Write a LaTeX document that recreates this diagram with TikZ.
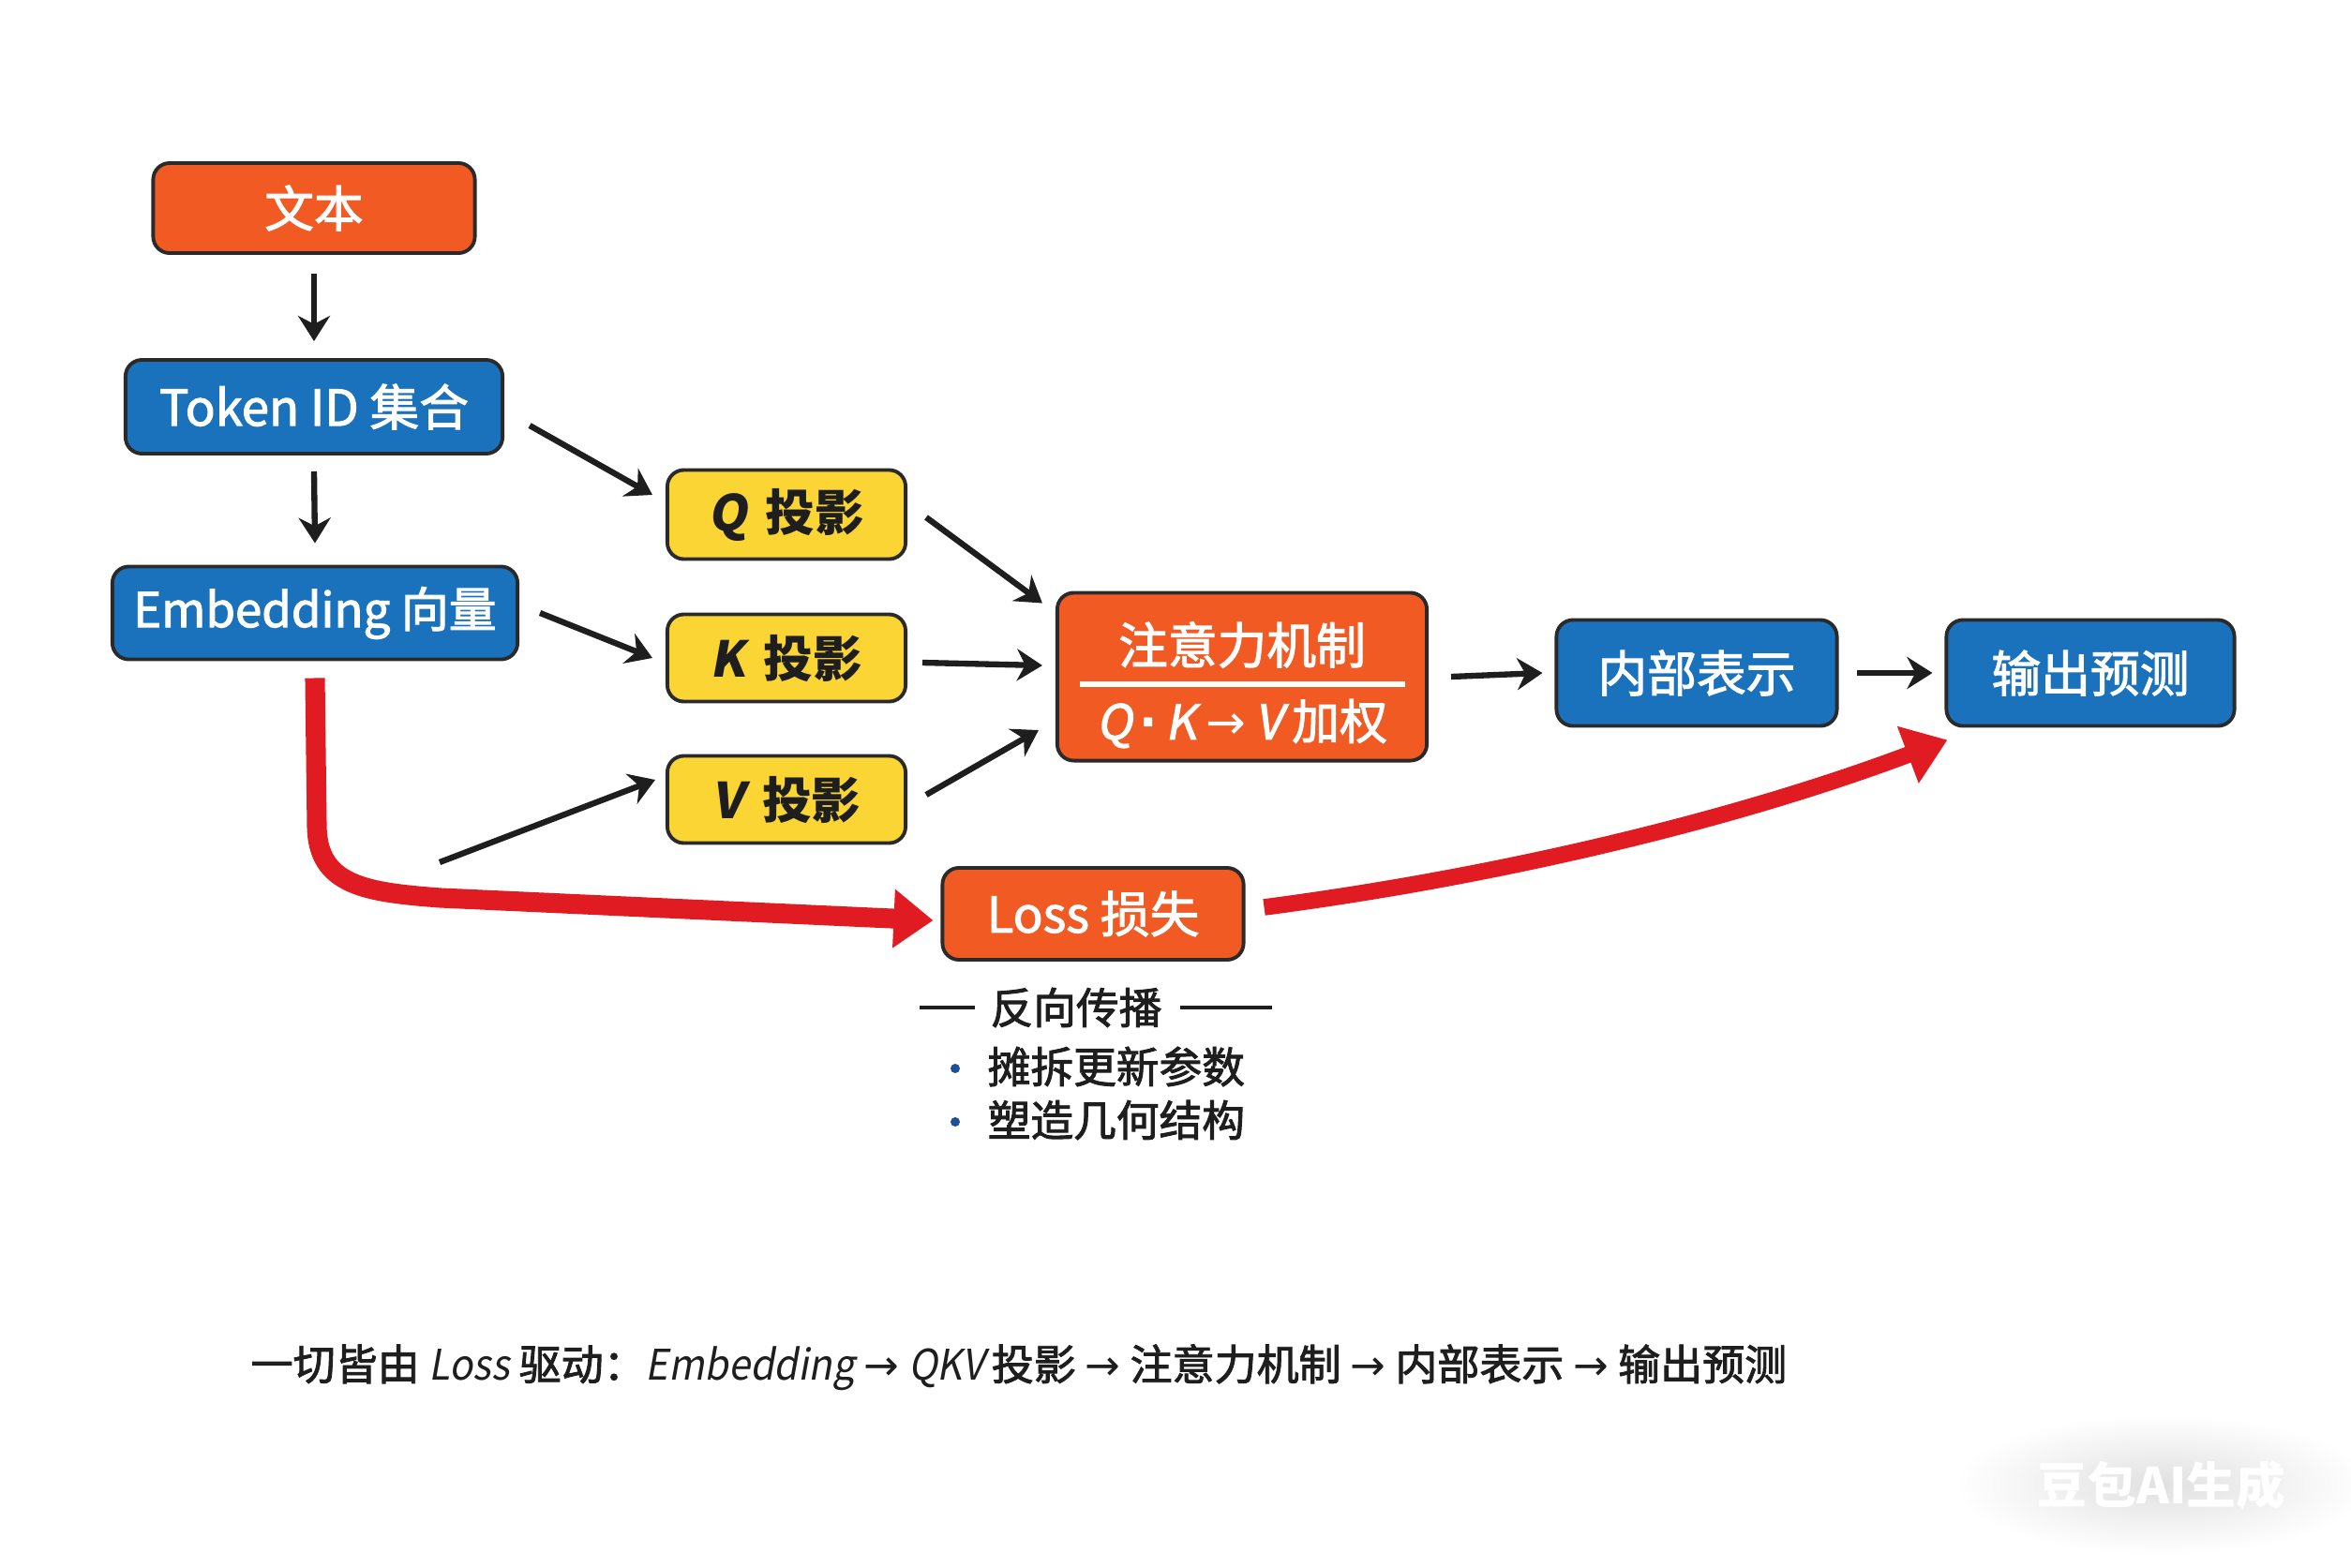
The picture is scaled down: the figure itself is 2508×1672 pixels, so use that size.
\documentclass[tikz,border=0pt]{standalone}
\usepackage{fontspec}
\setmainfont{Noto Sans CJK SC}
\newfontfamily\medfont[FakeBold=2]{Noto Sans CJK SC}
\newfontfamily\medslfont[FakeBold=2,FakeSlant=0.18]{Noto Sans CJK SC}
\newfontfamily\bslfont[FakeSlant=0.18]{Noto Sans CJK SC}
\newfontfamily\plainfont{Noto Sans CJK SC}
\newfontfamily\slfont[FakeSlant=0.18,FakeStretch=0.92]{Noto Sans CJK SC}
\newfontfamily\symfont{DejaVu Sans}
\usetikzlibrary{arrows.meta}
\definecolor{orangebox}{HTML}{F25A24}
\definecolor{bluebox}{HTML}{1A72BD}
\definecolor{yellowbox}{HTML}{FAD534}
\definecolor{redarr}{HTML}{E11B22}
\definecolor{outline}{HTML}{2A2A2A}
\definecolor{inkdark}{HTML}{1E1E1E}
\definecolor{dotblue}{HTML}{1F4E9A}
\newcommand{\rarr}{{\symfont →}}
\begin{document}
\begin{tikzpicture}[x=0.01cm,y=-0.01cm,
  box/.style={draw=outline, line width=1.1pt, rounded corners=5pt, inner sep=0pt, align=center},
  onode/.style={box, fill=orangebox, text=white},
  bnode/.style={box, fill=bluebox, text=white},
  ynode/.style={box, fill=yellowbox, text=inkdark},
  bigtxt/.style={font=\fontsize{15}{18}\selectfont\medfont},
  qtxt/.style={font=\fontsize{15}{18}\selectfont\plainfont\bfseries},
  midtxt/.style={font=\fontsize{13}{16}\selectfont\medfont},
  arr/.style={-{Stealth[length=0.27cm,width=0.34cm]}, line width=1.8pt, draw=inkdark},
  redar/.style={-{Triangle[length=0.42cm,width=0.6cm]}, line width=6pt, draw=redarr},
  redar2/.style={-{Triangle[length=0.45cm,width=0.62cm]}, line width=5pt, draw=redarr},
  sepline/.style={line width=0.9pt, draw=inkdark}
]
\useasboundingbox (0,0) rectangle (2508,1672);
\fill[white] (0,0) rectangle (2508,1672);

% left column
\node[onode, bigtxt, minimum width=3.43cm, minimum height=0.96cm] (txt) at (335,222) {文本};
\node[bnode, bigtxt, minimum width=4.02cm, minimum height=1.0cm] (tok) at (335,434) {Token ID 集合};
\node[bnode, font=\fontsize{14.5}{18}\selectfont\medfont, minimum width=4.32cm, minimum height=0.99cm] (emb) at (336,654) {Embedding 向量};

% projections
\node[ynode, qtxt, minimum width=2.54cm, minimum height=0.95cm] (qb) at (839,549) {{\bslfont\bfseries Q}\hspace{0.2cm}投影};
\node[ynode, qtxt, minimum width=2.54cm, minimum height=0.93cm] (kb) at (839,702) {{\bslfont\bfseries K}\hspace{0.2cm}投影};
\node[ynode, qtxt, minimum width=2.54cm, minimum height=0.93cm] (vb) at (839,853) {{\bslfont\bfseries V}\hspace{0.2cm}投影};

% attention
\node[onode, minimum width=3.94cm, minimum height=1.79cm] (attn) at (1325,722) {};
\node[text=white, bigtxt, inner sep=0pt] (attnt) at (1325,688) {注意力机制};
\node[text=white, font=\fontsize{14.5}{17}\selectfont\medfont, inner sep=0pt] (attnb) at (1325,772) {{\medslfont Q}\hspace{0.08cm}{\symfont\bfseries ·}\hspace{0.08cm}{\medslfont K}\hspace{0.1cm}\rarr\hspace{0.1cm}{\medslfont V}\hspace{0.1cm}加权};
\draw[white, line width=1.5pt] (1152,730) -- (1499,730);

% right
\node[bnode, bigtxt, minimum width=2.99cm, minimum height=1.13cm] (inner) at (1810,718) {内部表示};
\node[bnode, bigtxt, minimum width=3.07cm, minimum height=1.13cm] (outp) at (2230,718) {输出预测};

% loss
\node[onode, bigtxt, minimum width=3.21cm, minimum height=0.98cm] (loss) at (1166,975) {Loss 损失};

% black arrows
\draw[arr] ([yshift=-0.2cm]txt.south) -- ([yshift=0.18cm]tok.north);
\draw[arr] ([yshift=-0.17cm]tok.south) -- ([yshift=0.23cm]emb.north);
\draw[arr] ([xshift=0.27cm,yshift=-0.2cm]tok.east) -- ([xshift=-0.14cm,yshift=0.21cm]qb.west);
\draw[arr] ([xshift=0.22cm]emb.east) -- ([xshift=-0.14cm]kb.west);
\coordinate (vin) at (469,920);
\draw[arr] (vin) -- ([xshift=-0.11cm,yshift=0.21cm]vb.west);
\draw[arr] ([xshift=0.2cm,yshift=-0.03cm]qb.east) -- ([xshift=-0.14cm,yshift=-0.13cm]attn.north west);
\draw[arr] ([xshift=0.16cm,yshift=-0.05cm]kb.east) -- ([xshift=-0.14cm,yshift=0.12cm]attn.west);
\draw[arr] ([xshift=0.2cm,yshift=0.05cm]vb.east) -- ([xshift=-0.18cm,yshift=-0.57cm]attn.west);
\draw[arr] ([xshift=0.24cm]attn.east) -- ([xshift=-0.13cm]inner.west);
\draw[arr] ([xshift=0.19cm]inner.east) -- ([xshift=-0.13cm]outp.west);

% red arrows
\draw[redar] ([yshift=-0.18cm]emb.south) -- (338,880) .. controls (338,945) and (390,952) .. (470,958) -- ([xshift=-0.08cm,yshift=-0.07cm]loss.west);
\draw[redar2] ([xshift=0.2cm,yshift=0.07cm]loss.east) .. controls (1600,935) and (1850,875) .. ([xshift=0.03cm,yshift=-0.13cm]outp.south west);

% backprop note
\node[midtxt, text=inkdark, inner sep=0pt] (bp) at (1148,1075) {反向传播};
\draw[sepline] (981,1075) -- (1040,1075);
\draw[sepline] (1259,1075) -- (1357,1075);
\node[circle, fill=dotblue, inner sep=0pt, minimum size=0.1cm] (d1) at (1019,1140) {};
\node[circle, fill=dotblue, inner sep=0pt, minimum size=0.1cm] (d2) at (1019,1197) {};
\node[midtxt, text=inkdark, anchor=west, inner sep=0pt] (b1) at (1053,1138) {摊拆更新参数};
\node[midtxt, text=inkdark, anchor=west, inner sep=0pt] (b2) at (1053,1195) {塑造几何结构};

% footer
\node[font=\fontsize{12.8}{15}\selectfont\medfont, text=inkdark, anchor=west, inner sep=0pt] (foot) at (267,1459)
  {一切皆由 {\slfont Loss} 驱动：{\slfont Embedding}\hspace{0.1cm}\rarr\hspace{0.1cm}{\slfont QKV}\hspace{0.08cm}投影\hspace{0.1cm}\rarr\hspace{0.1cm}注意力机制\hspace{0.1cm}\rarr\hspace{0.1cm}内部表示\hspace{0.1cm}\rarr\hspace{0.1cm}输出预测};

% watermark
\shade[inner color=black!12, outer color=white] (2306,1584) ellipse (2.2cm and 0.75cm);
\node[text=white, font=\fontsize{15}{18}\selectfont\bfseries, inner sep=0pt] (wm) at (2306,1584) {豆包AI生成};
\end{tikzpicture}
\end{document}
